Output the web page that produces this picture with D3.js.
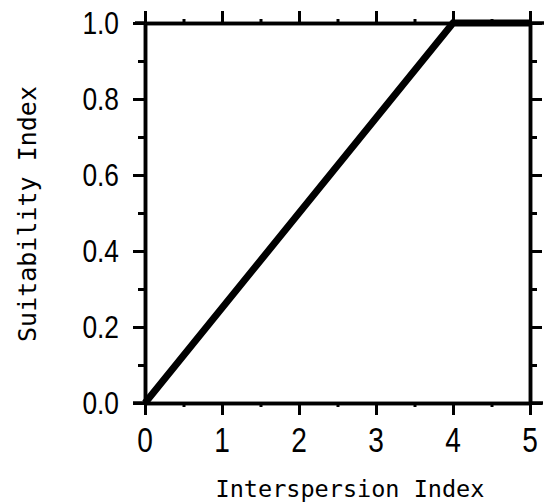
<!DOCTYPE html>
<html><head><meta charset="utf-8">
<script src="https://cdn.jsdelivr.net/npm/d3@7"></script>
<style>body{margin:0;background:#fff}</style>
</head><body>
<script>
const lineX = [0, 4, 5];
const lineY = [0, 1, 1];
const xTicks = [0, 1, 2, 3, 4, 5];
const xTickLabels = ["0", "1", "2", "3", "4", "5"];
const yTicks = [0, 0.2, 0.4, 0.6, 0.8, 1.0];
const yTickLabels = ["0.0", "0.2", "0.4", "0.6", "0.8", "1.0"];
const xMinor = [0.5, 1.5, 2.5, 3.5, 4.5];
const yMinor = [0.1, 0.3, 0.5, 0.7, 0.9];

const W = 553, H = 504;
const svg = d3.select("body").append("svg").attr("width", W).attr("height", H);
const x = d3.scaleLinear().domain([0, 5]).range([145, 530]);
const y = d3.scaleLinear().domain([0, 1]).range([403, 23]);
const sw = 3.5, maj = 12, mnr = 4;

svg.append("g").attr("transform", `translate(0,${y(0)})`)
  .call(d3.axisBottom(x).tickValues(xTicks).tickSize(maj).tickFormat("").tickSizeOuter(0));
svg.append("g").attr("transform", `translate(0,${y(0)})`)
  .call(d3.axisBottom(x).tickValues(xMinor).tickSize(mnr).tickFormat("").tickSizeOuter(0));
svg.append("g").attr("transform", `translate(0,${y(1)})`)
  .call(d3.axisTop(x).tickValues(xTicks).tickSize(maj).tickFormat("").tickSizeOuter(0));
svg.append("g").attr("transform", `translate(0,${y(1)})`)
  .call(d3.axisTop(x).tickValues(xMinor).tickSize(mnr).tickFormat("").tickSizeOuter(0));
svg.append("g").attr("transform", `translate(${x(0)},0)`)
  .call(d3.axisLeft(y).tickValues(yTicks).tickSize(maj).tickFormat("").tickSizeOuter(0));
svg.append("g").attr("transform", `translate(${x(0)},0)`)
  .call(d3.axisLeft(y).tickValues(yMinor).tickSize(mnr + 3).tickFormat("").tickSizeOuter(0));
svg.append("g").attr("transform", `translate(${x(5)},0)`)
  .call(d3.axisRight(y).tickValues(yTicks).tickSize(maj).tickFormat("").tickSizeOuter(0));
svg.append("g").attr("transform", `translate(${x(5)},0)`)
  .call(d3.axisRight(y).tickValues(yMinor).tickSize(mnr + 3).tickFormat("").tickSizeOuter(0));

svg.selectAll(".domain").attr("stroke", "#000").attr("stroke-width", sw);
svg.selectAll(".tick line").attr("stroke", "#000").attr("stroke-width", 3);
svg.append("line").attr("x1", x(0) - 12).attr("x2", x(0)).attr("y1", y(0)).attr("y2", y(0))
  .attr("stroke", "#000").attr("stroke-width", sw);
svg.append("line").attr("x1", x(5)).attr("x2", x(5) + 13).attr("y1", y(0)).attr("y2", y(0))
  .attr("stroke", "#000").attr("stroke-width", sw);
svg.append("line").attr("x1", x(0) - 10).attr("x2", x(0)).attr("y1", y(1)).attr("y2", y(1))
  .attr("stroke", "#000").attr("stroke-width", sw);
svg.append("line").attr("x1", x(5)).attr("x2", x(5) + 14).attr("y1", y(1)).attr("y2", y(1))
  .attr("stroke", "#000").attr("stroke-width", sw);

const pts = lineX.map((v, i) => [v, lineY[i]]);
svg.append("path").datum(pts)
  .attr("d", d3.line().x(d => x(d[0])).y(d => y(d[1])))
  .attr("fill", "none").attr("stroke", "#000").attr("stroke-width", 7)
  .attr("stroke-linejoin", "miter").attr("stroke-linecap", "butt");

const fnt = "'Liberation Sans', Arial, sans-serif";
svg.append("g").selectAll("text").data(xTicks).join("text")
  .attr("transform", d => `translate(${x(d)},452) scale(0.78,1)`)
  .attr("text-anchor", "middle").attr("font-family", fnt).attr("font-size", 36)
  .text((d, i) => xTickLabels[i]);
svg.append("g").selectAll("text").data(yTicks).join("text")
  .attr("transform", d => `translate(119,${y(d) + 11}) scale(0.85,1)`)
  .attr("text-anchor", "end").attr("font-family", fnt).attr("font-size", 31)
  .text((d, i) => yTickLabels[i]);

const mono = "'DejaVu Sans Mono', 'Liberation Mono', monospace";
svg.append("text").attr("x", 350).attr("y", 497).attr("text-anchor", "middle")
  .attr("font-family", mono).attr("font-size", 23.5).text("Interspersion Index");
svg.append("text").attr("transform", "translate(36,214) rotate(-90)").attr("text-anchor", "middle")
  .attr("font-family", mono).attr("font-size", 25).text("Suitability Index");
</script>
</body></html>
